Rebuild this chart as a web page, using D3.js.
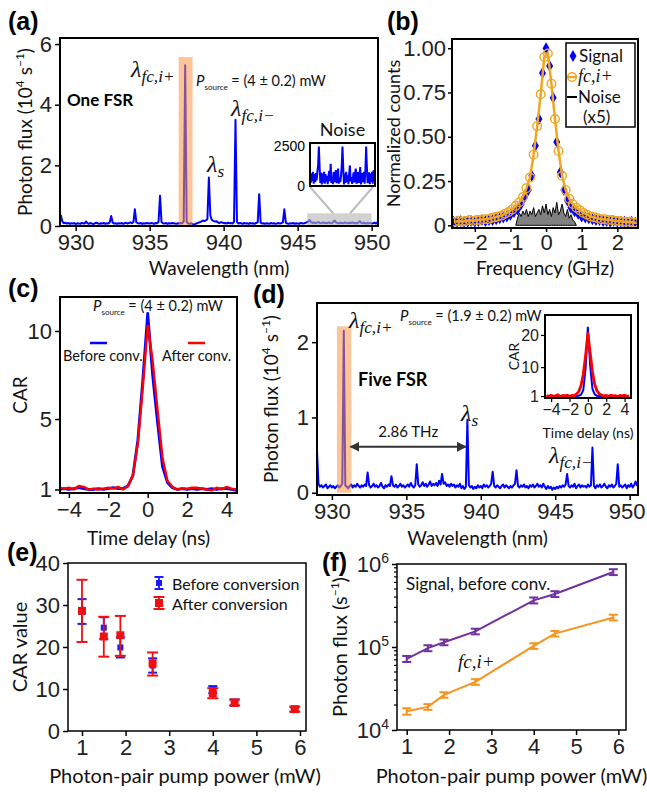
<!DOCTYPE html>
<html>
<head>
<meta charset="utf-8">
<script src="https://cdn.jsdelivr.net/npm/d3@7"></script>
<style>
  body { margin: 0; background: #fff; }
  svg { display: block; }
</style>
</head>
<body>
<div id="chart"></div>
<script>
// ---------- data ----------

// (a) one-FSR spectrum, photon flux (1e4 /s), sampled every 0.1 nm from 928.9 nm
const aStart = 928.9, aStep = 0.1;
const aFlux = [
  0.14, 0.35, 0.15, 0.09, 0.11, 0.08, 0.10, 0.07, 0.09, 0.08,
  0.10, 0.06, 0.09, 0.08, 0.07, 0.10, 0.09, 0.08, 0.15, 0.09,
  0.07, 0.10, 0.08, 0.06, 0.09, 0.11, 0.08, 0.07, 0.09, 0.08,
  0.10, 0.07, 0.09, 0.08, 0.12, 0.33, 0.11, 0.08, 0.09, 0.07,
  0.09, 0.08, 0.10, 0.07, 0.09, 0.11, 0.08, 0.10, 0.12, 0.09,
  0.13, 0.55, 0.12, 0.09, 0.08, 0.10, 0.07, 0.09, 0.08, 0.10,
  0.09, 0.08, 0.10, 0.09, 0.07, 0.10, 0.09, 0.14, 1.00, 0.13,
  0.09, 0.08, 0.10, 0.07, 0.09, 0.08, 0.10, 0.09, 0.08, 0.07,
  0.09, 0.08, 0.10, 0.09, 0.15, 5.30, 0.14, 0.08, 0.07, 0.09,
  0.06, 0.05, 0.07, 0.09, 0.11, 0.13, 0.15, 0.18, 0.16, 0.19,
  0.22, 1.60, 0.35, 0.20, 0.17, 0.15, 0.16, 0.12, 0.10, 0.12,
  0.12, 0.09, 0.10, 0.08, 0.11, 0.09, 0.10, 0.08, 0.14, 3.50,
  0.13, 0.08, 0.10, 0.09, 0.07, 0.10, 0.08, 0.09, 0.07, 0.10,
  0.08, 0.09, 0.07, 0.10, 0.12, 1.05, 0.11, 0.08, 0.09, 0.07,
  0.09, 0.08, 0.07, 0.10, 0.08, 0.09, 0.07, 0.08, 0.10, 0.08,
  0.09, 0.12, 0.55, 0.11, 0.08, 0.07, 0.09, 0.08, 0.10, 0.07,
  0.09, 0.08, 0.07, 0.10, 0.09, 0.08, 0.10, 0.12, 0.14, 0.20,
  0.13, 0.10, 0.12, 0.09, 0.11, 0.13, 0.10, 0.09, 0.12, 0.10,
  0.11, 0.09, 0.12, 0.10, 0.09, 0.13, 0.18, 0.12, 0.10, 0.09,
  0.11, 0.10, 0.09, 0.12, 0.10, 0.09, 0.11, 0.10, 0.12, 0.09,
  0.10, 0.09, 0.11, 0.16, 0.10, 0.09, 0.11, 0.08, 0.10, 0.09,
  0.10, 0.08, 0.09, 0.11, 0.08, 0.12, 0.09
];
const aBand = [936.96, 937.9, 5.57];        // highlighted idler line: from, to, height
const aNoiseWin = [945.65, 950.0, 0.42];    // zoomed noise window: from, to, height
const aZoomLinks = [947.4, 948.55];         // where the guide lines leave the window

// (a) noise inset, counts/s every 0.05 nm from 945.6 nm
const aNoiseStart = 945.6, aNoiseStep = 0.05;
const aNoise = [
  700, 200, 800, 300, 900, 150, 750, 250, 820, 350,
  900, 1300, 2500, 1200, 200, 850, 100, 780, 220, 900,
  140, 760, 280, 650, 120, 600, 950, 300, 1400, 200,
  560, 120, 880, 240, 640, 1000, 180, 760, 1100, 150,
  520, 240, 660, 1300, 2500, 1100, 100, 780, 200, 900,
  250, 680, 120, 700, 1300, 300, 560, 140, 460, 860,
  220, 780, 1100, 140, 500, 880, 200, 560, 1200, 100,
  460, 820, 240, 900, 140, 1000, 2500, 1200, 180, 500,
  860, 120, 780, 260, 900, 140, 1000, 300, 850
];

// (b) normalized line shapes, every 0.1 GHz
const bSignalStart = -2.6, bFcStart = -2.55, bStep = 0.1;
const bSignal = [
  0.02, 0.02, 0.025, 0.02, 0.02, 0.025, 0.02, 0.025, 0.03, 0.025,
  0.03, 0.03, 0.035, 0.04, 0.045, 0.05, 0.06, 0.075, 0.09, 0.12,
  0.16, 0.20, 0.28, 0.45, 0.60, 0.86, 1.00, 0.90, 0.72, 0.47,
  0.30, 0.20, 0.14, 0.10, 0.08, 0.065, 0.05, 0.045, 0.04, 0.035,
  0.03, 0.03, 0.025, 0.025, 0.02, 0.025, 0.02, 0.02, 0.02, 0.015,
  0.02, 0.015
];
const bFc = [
  0.02, 0.025, 0.02, 0.025, 0.03, 0.025, 0.03, 0.03, 0.035, 0.035,
  0.04, 0.045, 0.05, 0.055, 0.065, 0.075, 0.09, 0.11, 0.13, 0.16,
  0.21, 0.27, 0.40, 0.56, 0.74, 0.95, 0.97, 0.80, 0.60, 0.42,
  0.28, 0.20, 0.15, 0.12, 0.10, 0.085, 0.07, 0.06, 0.05, 0.045,
  0.04, 0.035, 0.035, 0.03, 0.03, 0.025, 0.025, 0.02, 0.02, 0.02,
  0.015, 0.015
];
const bNoiseStart = -0.85, bNoiseStep = 0.05;
const bNoise = [
  0, 0.04, 0.07, 0.05, 0.08, 0.06, 0.09, 0.05, 0.08, 0.06,
  0.10, 0.05, 0.07, 0.09, 0.06, 0.11, 0.07, 0.12, 0.06, 0.09,
  0.05, 0.10, 0.07, 0.13, 0.06, 0.08, 0.12, 0.07, 0.05, 0.09,
  0.04, 0.06, 0.03, 0.02, 0
];

// (c) CAR vs time delay, every 0.25 ns from -4.5 ns
const cStart = -4.5, cStep = 0.25;
const cBefore = [
  1.00, 1.05, 1.00, 1.05, 1.10, 1.05, 1.00, 1.00, 1.05, 1.00,
  1.05, 1.10, 1.05, 1.05, 1.20, 1.80, 3.80, 7.20, 11.00, 7.50,
  4.80, 2.30, 1.40, 1.10, 1.00, 1.05, 1.00, 1.05, 1.00, 1.05,
  1.00, 1.05, 1.00, 1.05, 1.05, 1.00, 0.95
];
const cAfter = [
  1.10, 1.05, 1.10, 1.00, 1.20, 1.15, 1.00, 1.05, 1.00, 1.05,
  1.10, 1.05, 1.15, 1.00, 1.20, 1.80, 3.60, 6.80, 10.30, 8.30,
  5.50, 2.80, 1.50, 1.15, 1.00, 1.05, 1.05, 1.10, 1.10, 1.05,
  1.00, 0.95, 1.10, 1.00, 1.15, 1.05, 1.00
];

// (d) five-FSR spectrum, photon flux (1e4 /s), every 0.1 nm from 929.0 nm
const dStart = 929.0, dStep = 0.1;
const dFlux = [
  0.55, 0.12, 0.08, 0.10, 0.07, 0.09, 0.11, 0.06, 0.08, 0.10,
  0.07, 0.09, 0.06, 0.08, 0.10, 0.07, 0.09, 0.12, 2.15, 0.10,
  0.08, 0.06, 0.09, 0.11, 0.07, 0.10, 0.08, 0.12, 0.09, 0.07,
  0.10, 0.08, 0.11, 0.09, 0.27, 0.10, 0.07, 0.09, 0.12, 0.08,
  0.10, 0.07, 0.09, 0.13, 0.08, 0.06, 0.10, 0.08, 0.11, 0.09,
  0.22, 0.10, 0.08, 0.11, 0.07, 0.09, 0.12, 0.08, 0.10, 0.07,
  0.09, 0.11, 0.08, 0.13, 0.09, 0.07, 0.10, 0.38, 0.11, 0.08,
  0.10, 0.14, 0.09, 0.12, 0.08, 0.11, 0.15, 0.09, 0.12, 0.10,
  0.13, 0.09, 0.16, 0.11, 0.25, 0.12, 0.14, 0.09, 0.11, 0.08,
  0.12, 0.09, 0.11, 0.07, 0.10, 0.08, 0.12, 0.06, 0.09, 0.05,
  0.08, 0.97, 0.10, 0.07, 0.09, 0.05, 0.08, 0.06, 0.10, 0.07,
  0.09, 0.06, 0.11, 0.08, 0.10, 0.07, 0.09, 0.12, 0.28, 0.09,
  0.07, 0.10, 0.08, 0.06, 0.09, 0.11, 0.07, 0.10, 0.08, 0.06,
  0.09, 0.07, 0.10, 0.12, 0.30, 0.09, 0.07, 0.10, 0.08, 0.11,
  0.07, 0.09, 0.06, 0.10, 0.08, 0.11, 0.07, 0.09, 0.12, 0.08,
  0.10, 0.07, 0.12, 0.08, 0.05, 0.09, 0.06, 0.08, 0.04, 0.07,
  0.05, 0.08, 0.06, 0.09, 0.07, 0.10, 0.08, 0.11, 0.25, 0.09,
  0.07, 0.10, 0.08, 0.12, 0.06, 0.09, 0.11, 0.07, 0.10, 0.08,
  0.09, 0.07, 0.11, 0.08, 0.10, 0.60, 0.09, 0.06, 0.10, 0.08,
  0.11, 0.07, 0.09, 0.12, 0.08, 0.06, 0.10, 0.08, 0.11, 0.07,
  0.09, 0.12, 0.38, 0.08, 0.10, 0.07, 0.09, 0.11, 0.06, 0.10,
  0.08, 0.12, 0.07, 0.10, 0.15, 0.09
];
const dBand = [930.34, 931.3, 2.21];
const dArrow = [931.25, 939.0, 0.61];   // 2.86 THz spacing arrow: from, to, level

// (d) inset CAR, every 0.25 ns from -4.5 ns
const dInStart = -4.5, dInStep = 0.25;
const dInBefore = [
  1.0, 1.1, 0.9, 1.0, 1.1, 1.0, 0.9, 1.0, 1.1, 1.0,
  1.0, 0.9, 1.1, 1.0, 1.1, 1.4, 2.8, 9.5, 22.5, 10.5,
  3.2, 1.5, 1.1, 1.0, 0.9, 1.0, 1.1, 1.0, 0.9, 1.0,
  1.1, 1.0, 0.9, 1.0, 1.1, 1.0, 1.0
];
const dInAfter = [
  1.2, 0.8, 1.3, 0.9, 1.1, 1.4, 0.8, 1.2, 1.0, 1.3,
  0.9, 1.2, 1.1, 1.6, 2.4, 4.2, 7.8, 13.5, 20.5, 14.5,
  8.5, 4.6, 2.6, 1.7, 1.3, 1.0, 1.2, 0.9, 1.3, 1.0,
  1.1, 0.8, 1.2, 1.0, 1.3, 0.9, 1.1
];

// (e) CAR value vs pump power
const ePower = [1.0, 1.5, 1.88, 2.62, 4.0, 4.5, 5.88];
const eBefore = [28.4, 24.6, 19.9, 15.6, 9.9, 6.8, 5.1];
const eBeforeLo = [25.5, 21.9, 17.5, 13.9, 9.0, 6.0, 4.6];
const eBeforeHi = [31.4, 27.1, 22.3, 17.3, 10.7, 7.5, 5.6];
const eAfter = [28.6, 22.5, 22.8, 16.1, 9.0, 6.7, 5.2];
const eAfterLo = [21.2, 17.7, 17.9, 13.2, 7.8, 6.1, 4.6];
const eAfterHi = [36.0, 27.2, 27.4, 18.7, 10.2, 7.5, 5.8];

// (f) photon flux vs pump power (1/s)
const fPower = [1.0, 1.5, 1.88, 2.62, 4.0, 4.5, 5.88];
const fSignal = [7.2e4, 9.7e4, 1.14e5, 1.54e5, 3.65e5, 4.35e5, 8.0e5];
const fSignalErr = [0.6e4, 0.8e4, 0.9e4, 1.2e4, 3.0e4, 3.5e4, 6.5e4];
const fFc = [1.68e4, 1.9e4, 2.65e4, 3.8e4, 1.03e5, 1.45e5, 2.27e5];
const fFcErr = [0.15e4, 0.15e4, 0.2e4, 0.3e4, 0.8e4, 1.1e4, 1.8e4];

// ---------- drawing ----------
const TICK_FONT = '"Liberation Sans", Arial, sans-serif';
const LABEL_FONT = 'Lato, "Open Sans", sans-serif';
const SERIF = '"Liberation Serif", "Times New Roman", serif';
const BLUE = '#0000ff', RED = '#ff0000';

const svg = d3.select('#chart').append('svg')
  .attr('width', 647).attr('height', 794)
  .style('background', '#fff');
const defs = svg.append('defs');

function clipFor(id, b) {
  defs.append('clipPath').attr('id', id).append('rect')
    .attr('x', b.l).attr('y', b.t).attr('width', b.r - b.l).attr('height', b.b - b.t);
  return `url(#${id})`;
}

function drawFrame(b, sw) {
  svg.append('rect')
    .attr('x', b.l).attr('y', b.t).attr('width', b.r - b.l).attr('height', b.b - b.t)
    .attr('fill', 'none').attr('stroke', '#000').attr('stroke-width', sw || 2);
}

function drawAxes(b, x, y, o) {
  const fs = o.fs || 22;
  const gx = svg.append('g').attr('transform', `translate(0,${b.b})`)
    .call(d3.axisBottom(x).tickValues(o.xt).tickFormat(o.xf || d3.format('d'))
      .tickSize(o.ts !== undefined ? o.ts : 5).tickPadding(o.tp || 3));
  const gy = svg.append('g').attr('transform', `translate(${b.l},0)`)
    .call(d3.axisLeft(y).tickValues(o.yt).tickFormat(o.yf || d3.format('d'))
      .tickSize(o.ts !== undefined ? o.ts : 5).tickPadding(o.tp || 3));
  [gx, gy].forEach(g => {
    g.select('.domain').remove();
    g.attr('font-family', TICK_FONT).attr('font-size', fs);
    g.selectAll('text').attr('fill', '#222');
    g.selectAll('line').attr('stroke', '#000').attr('stroke-width', o.tw || 1.5);
  });
  return { gx, gy };
}

// text made of pieces: {t, dy (absolute baseline offset), fs, ff, it}
function label(x, y, parts, o = {}) {
  const t = svg.append('text').attr('x', x).attr('y', y)
    .attr('font-family', o.ff || LABEL_FONT).attr('font-size', o.fs || 20)
    .attr('fill', o.fill || '#111');
  if (o.anchor) t.attr('text-anchor', o.anchor);
  if (o.weight) t.attr('font-weight', o.weight);
  if (o.rotate) t.attr('transform', `rotate(${o.rotate},${x},${y})`);
  let cur = 0;
  (typeof parts === 'string' ? [{ t: parts }] : parts).forEach(p => {
    const s = t.append('tspan').text(p.t);
    const dy = p.dy || 0;
    if (dy !== cur) { s.attr('dy', dy - cur); cur = dy; }
    if (p.fs) s.attr('font-size', p.fs);
    if (p.ff) s.attr('font-family', p.ff);
    if (p.it) s.attr('font-style', 'italic');
  });
  return t;
}

function lambda(x, y, sub, fs) {
  const f = fs || 24;
  return label(x, y, [{ t: 'λ', fs: f, it: true }, { t: sub, fs: f * 0.72, it: true, dy: f * 0.22 }], { ff: SERIF });
}

function pSource(x, y, val) {
  return label(x, y, [
    { t: 'P', it: true, fs: 15 }, { t: 'source', fs: 8, dy: 4 }, { t: ' = (' + val + ' ± 0.2) mW', fs: 14.5 }
  ], { fs: 14.5 });
}

const fluxTitle = [
  { t: 'Photon flux (10' }, { t: '4', fs: 12, dy: -8 }, { t: ' s' },
  { t: '−1', fs: 12, dy: -8 }, { t: ')' }
];

function panelTag(x, y, s) {
  label(x, y, s, { ff: TICK_FONT, fs: 25, weight: 'bold', fill: '#000' });
}

// ===== (a) =====
const aBox = { l: 60, t: 38, r: 378, b: 226 };
const ax = d3.scaleLinear().domain([928.94, 950.43]).range([aBox.l, aBox.r]);
const ay = d3.scaleLinear().domain([0, 6.2]).range([aBox.b, aBox.t]);
drawAxes(aBox, ax, ay, { xt: [930, 935, 940, 945, 950], yt: [0, 2, 4, 6] });
const aClip = clipFor('clipA', aBox);
svg.append('path').datum(aFlux)
  .attr('d', d3.line().x((d, i) => ax(aStart + aStep * i)).y(d => ay(d)))
  .attr('fill', 'none').attr('stroke', BLUE).attr('stroke-width', 2)
  .attr('stroke-linejoin', 'round').attr('clip-path', aClip);
svg.append('rect')
  .attr('x', ax(aBand[0])).attr('width', ax(aBand[1]) - ax(aBand[0]))
  .attr('y', ay(aBand[2])).attr('height', ay(0) - ay(aBand[2]))
  .attr('fill', '#f79646').attr('opacity', 0.55);
svg.append('rect')
  .attr('x', ax(aNoiseWin[0])).attr('width', ax(aNoiseWin[1]) - ax(aNoiseWin[0]))
  .attr('y', ay(aNoiseWin[2])).attr('height', ay(0) - ay(aNoiseWin[2]))
  .attr('fill', '#b4b4b4').attr('opacity', 0.6);

// noise inset
const aiBox = { l: 310, t: 143, r: 375, b: 186 };
const aix = d3.scaleLinear().domain([945.6, 950.0]).range([aiBox.l, aiBox.r]);
const aiy = d3.scaleLinear().domain([0, 2720]).range([aiBox.b, aiBox.t]);
svg.append('line').attr('x1', ax(aZoomLinks[0])).attr('y1', ay(aNoiseWin[2]))
  .attr('x2', aiBox.l).attr('y2', aiBox.b + 1).attr('stroke', '#bdbdbd').attr('stroke-width', 2);
svg.append('line').attr('x1', ax(aZoomLinks[1])).attr('y1', ay(aNoiseWin[2]))
  .attr('x2', aiBox.r - 2).attr('y2', aiBox.b + 1).attr('stroke', '#bdbdbd').attr('stroke-width', 2);
svg.append('rect').attr('x', aiBox.l).attr('y', aiBox.t)
  .attr('width', aiBox.r - aiBox.l).attr('height', aiBox.b - aiBox.t).attr('fill', '#fff');
svg.append('path').datum(aNoise)
  .attr('d', d3.line().x((d, i) => aix(aNoiseStart + aNoiseStep * i)).y(d => aiy(d)))
  .attr('fill', 'none').attr('stroke', BLUE).attr('stroke-width', 2)
  .attr('clip-path', clipFor('clipAi', aiBox));
drawFrame(aiBox, 2);
const aiAx = svg.append('g').attr('transform', `translate(${aiBox.l},0)`)
  .call(d3.axisLeft(aiy).tickValues([0, 2500]).tickFormat(d3.format('d')).tickSize(0).tickPadding(5));
aiAx.select('.domain').remove();
aiAx.attr('font-family', TICK_FONT).attr('font-size', 14);
label((aiBox.l + aiBox.r) / 2, 136, 'Noise', { anchor: 'middle', fs: 18 });

drawFrame(aBox, 2);
panelTag(8, 30, '(a)');
label(32, (aBox.t + aBox.b) / 2, fluxTitle, { rotate: -90, anchor: 'middle', fs: 19 });
label((aBox.l + aBox.r) / 2, 275, 'Wavelength (nm)', { anchor: 'middle', fs: 19 });
lambda(131, 77, 'fc,i+');
pSource(196, 86, '4');
label(67, 106, 'One FSR', { fs: 17, weight: 'bold', fill: '#000' });
lambda(231, 116, 'fc,i−');
lambda(207, 172, 's');

// ===== (b) =====
const bBox = { l: 452, t: 39, r: 638, b: 228 };
const bx = d3.scaleLinear().domain([-2.64, 2.58]).range([bBox.l, bBox.r]);
const by = d3.scaleLinear().domain([-0.015, 1.052]).range([bBox.b, bBox.t]);
drawAxes(bBox, bx, by, {
  xt: [-2, -1, 0, 1, 2], yt: [0, 0.25, 0.5, 0.75, 1], ts: 4, tp: 2,
  yf: d => d === 0 ? '0' : d3.format('.2f')(d)
});
const bClip = clipFor('clipB', bBox);
const ORANGE_B = '#eea623';
svg.append('path').datum(bNoise)
  .attr('d', d3.area().x((d, i) => bx(bNoiseStart + bNoiseStep * i)).y0(by(0)).y1(d => by(d)))
  .attr('fill', '#808080').attr('stroke', '#000').attr('stroke-width', 1);
svg.append('g').attr('clip-path', bClip).selectAll('path').data(bSignal).join('path')
  .attr('d', d3.symbol(d3.symbolDiamond, 42))
  .attr('transform', (d, i) => `translate(${bx(bSignalStart + bStep * i)},${by(d)})`)
  .attr('fill', BLUE);
svg.append('path').datum(bFc)
  .attr('d', d3.line().x((d, i) => bx(bFcStart + bStep * i)).y(d => by(d)))
  .attr('fill', 'none').attr('stroke', ORANGE_B).attr('stroke-width', 2.5).attr('clip-path', bClip);
svg.append('g').attr('clip-path', bClip).selectAll('circle').data(bFc).join('circle')
  .attr('cx', (d, i) => bx(bFcStart + bStep * i)).attr('cy', d => by(d)).attr('r', 4.3)
  .attr('fill', 'none').attr('stroke', ORANGE_B).attr('stroke-width', 1.4);
drawFrame(bBox, 2);
// legend
svg.append('rect').attr('x', 566).attr('y', 43).attr('width', 69).attr('height', 84)
  .attr('fill', '#fff').attr('stroke', '#000').attr('stroke-width', 1.5);
svg.append('path').attr('d', d3.symbol(d3.symbolDiamond, 42))
  .attr('transform', 'translate(573,56)').attr('fill', BLUE);
label(579, 62, 'Signal', { fs: 17 });
svg.append('line').attr('x1', 567).attr('x2', 577).attr('y1', 77).attr('y2', 77)
  .attr('stroke', ORANGE_B).attr('stroke-width', 2.5);
svg.append('circle').attr('cx', 572).attr('cy', 77).attr('r', 4.3)
  .attr('fill', 'none').attr('stroke', ORANGE_B).attr('stroke-width', 1.4);
label(578, 82, [{ t: 'fc,i+', it: true }], { ff: SERIF, fs: 18 });
svg.append('line').attr('x1', 567).attr('x2', 577).attr('y1', 97).attr('y2', 97)
  .attr('stroke', '#000').attr('stroke-width', 2);
label(578, 103, 'Noise', { fs: 17 });
label(583, 123, '(x5)', { fs: 17 });
panelTag(387, 30, '(b)');
label(400, (bBox.t + bBox.b) / 2, 'Normalized counts', { rotate: -90, anchor: 'middle', fs: 18 });
label((bBox.l + bBox.r) / 2, 275, 'Frequency (GHz)', { anchor: 'middle', fs: 19 });

// ===== (c) =====
const cBox = { l: 60, t: 297, r: 237, b: 493 };
const cx = d3.scaleLinear().domain([-4.45, 4.53]).range([cBox.l, cBox.r]);
const cy = d3.scaleLinear().domain([0.8, 11.93]).range([cBox.b, cBox.t]);
drawAxes(cBox, cx, cy, { xt: [-4, -2, 0, 2, 4], yt: [1, 5, 10] });
const cClip = clipFor('clipC', cBox);
const cLine = d3.line().x((d, i) => cx(cStart + cStep * i)).y(d => cy(d));
svg.append('path').datum(cBefore).attr('d', cLine).attr('fill', 'none')
  .attr('stroke', BLUE).attr('stroke-width', 2.8).attr('stroke-linejoin', 'round').attr('clip-path', cClip);
svg.append('path').datum(cAfter).attr('d', cLine).attr('fill', 'none')
  .attr('stroke', RED).attr('stroke-width', 2.4).attr('stroke-linejoin', 'round').attr('clip-path', cClip);
drawFrame(cBox, 2);
pSource(93, 311, '4');
svg.append('line').attr('x1', 90).attr('x2', 107).attr('y1', 343).attr('y2', 343)
  .attr('stroke', BLUE).attr('stroke-width', 2.5);
svg.append('line').attr('x1', 188).attr('x2', 205).attr('y1', 343).attr('y2', 343)
  .attr('stroke', RED).attr('stroke-width', 2.5);
label(63, 361, 'Before conv.', { fs: 14.5 });
label(162, 361, 'After conv.', { fs: 14.5 });
panelTag(8, 297, '(c)');
label(27, (cBox.t + cBox.b) / 2, 'CAR', { rotate: -90, anchor: 'middle', fs: 19 });
label((cBox.l + cBox.r) / 2, 545, 'Time delay (ns)', { anchor: 'middle', fs: 19 });

// ===== (d) =====
const dBox = { l: 317, t: 303, r: 638, b: 495 };
const dx = d3.scaleLinear().domain([929.0, 950.56]).range([dBox.l, dBox.r]);
const dy = d3.scaleLinear().domain([-0.03, 2.52]).range([dBox.b, dBox.t]);
const dAx = drawAxes(dBox, dx, dy, { xt: [930, 935, 940, 945, 950], yt: [0, 1, 2] });
// keep the last wavelength label inside the page
dAx.gx.selectAll('.tick text').filter(d => d === 950).attr('dx', -3);
svg.append('path').datum(dFlux)
  .attr('d', d3.line().x((d, i) => dx(dStart + dStep * i)).y(d => dy(d)))
  .attr('fill', 'none').attr('stroke', BLUE).attr('stroke-width', 2)
  .attr('stroke-linejoin', 'round').attr('clip-path', clipFor('clipD', dBox));
svg.append('rect')
  .attr('x', dx(dBand[0])).attr('width', dx(dBand[1]) - dx(dBand[0]))
  .attr('y', dy(dBand[2])).attr('height', dy(0) - dy(dBand[2]))
  .attr('fill', '#f79646').attr('opacity', 0.55);
// arrow
defs.append('marker').attr('id', 'arrowHead').attr('viewBox', '0 0 10 10')
  .attr('refX', 9).attr('refY', 5).attr('markerWidth', 5).attr('markerHeight', 5)
  .attr('orient', 'auto-start-reverse')
  .append('path').attr('d', 'M0,0 L10,5 L0,10 z').attr('fill', '#333');
svg.append('line').attr('x1', dx(dArrow[0])).attr('x2', dx(dArrow[1]))
  .attr('y1', dy(dArrow[2])).attr('y2', dy(dArrow[2]))
  .attr('stroke', '#333').attr('stroke-width', 2)
  .attr('marker-start', 'url(#arrowHead)').attr('marker-end', 'url(#arrowHead)');
label((dx(dArrow[0]) + dx(dArrow[1])) / 2, 437, '2.86 THz', { anchor: 'middle', fs: 15 });

// inset CAR
const diBox = { l: 545, t: 315, r: 631, b: 398 };
const dix = d3.scaleLinear().domain([-4.67, 4.7]).range([diBox.l, diBox.r]);
const diy = d3.scaleLinear().domain([0.4, 26.2]).range([diBox.b, diBox.t]);
svg.append('rect').attr('x', diBox.l).attr('y', diBox.t)
  .attr('width', diBox.r - diBox.l).attr('height', diBox.b - diBox.t).attr('fill', '#fff');
drawAxes(diBox, dix, diy, { xt: [-4, -2, 0, 2, 4], yt: [1, 10, 20], fs: 16, ts: 4, tp: 2, tw: 1.2 });
const diClip = clipFor('clipDi', diBox);
const diLine = d3.line().x((d, i) => dix(dInStart + dInStep * i)).y(d => diy(d));
svg.append('path').datum(dInBefore).attr('d', diLine).attr('fill', 'none')
  .attr('stroke', BLUE).attr('stroke-width', 2).attr('clip-path', diClip);
svg.append('path').datum(dInAfter).attr('d', diLine).attr('fill', 'none')
  .attr('stroke', RED).attr('stroke-width', 2.8).attr('stroke-linejoin', 'round').attr('clip-path', diClip);
drawFrame(diBox, 2);
label(519, (diBox.t + diBox.b) / 2, 'CAR', { rotate: -90, anchor: 'middle', fs: 14 });
label((diBox.l + diBox.r) / 2, 438, 'Time delay (ns)', { anchor: 'middle', fs: 14 });

drawFrame(dBox, 2);
lambda(349, 328, 'fc,i+');
pSource(400, 321, '1.9');
label(358, 386, 'Five  FSR', { fs: 18, weight: 'bold', fill: '#000' });
lambda(461, 421, 's');
lambda(549, 463, 'fc,i−');
panelTag(253, 303, '(d)');
label(278, (dBox.t + dBox.b) / 2, fluxTitle, { rotate: -90, anchor: 'middle', fs: 19 });
label((dBox.l + dBox.r) / 2, 545, 'Wavelength (nm)', { anchor: 'middle', fs: 19 });

// ===== (e) =====
const eBox = { l: 68, t: 563, r: 306, b: 731 };
const ex = d3.scaleLinear().domain([0.679, 6.138]).range([eBox.l, eBox.r]);
const ey = d3.scaleLinear().domain([0, 40]).range([eBox.b, eBox.t]);
drawAxes(eBox, ex, ey, { xt: [1, 2, 3, 4, 5, 6], yt: [0, 10, 20, 30, 40] });

function errorSeries(xs, ys, lo, hi, color, cap, size) {
  const g = svg.append('g');
  xs.forEach((xv, i) => {
    const px = ex(xv);
    g.append('line').attr('x1', px).attr('x2', px).attr('y1', ey(lo[i])).attr('y2', ey(hi[i]))
      .attr('stroke', color).attr('stroke-width', 1.8);
    [lo[i], hi[i]].forEach(v => g.append('line')
      .attr('x1', px - cap / 2).attr('x2', px + cap / 2).attr('y1', ey(v)).attr('y2', ey(v))
      .attr('stroke', color).attr('stroke-width', 2));
    g.append('rect').attr('x', px - size / 2).attr('y', ey(ys[i]) - size / 2)
      .attr('width', size).attr('height', size).attr('fill', color);
  });
}
errorSeries(ePower, eBefore, eBeforeLo, eBeforeHi, '#1a1aff', 9, 6);
errorSeries(ePower, eAfter, eAfterLo, eAfterHi, '#ee1111', 11, 8);
drawFrame(eBox, 1.5);
// legend
[[583, '#1a1aff', 6, 9, 'Before conversion'], [603, '#ee1111', 8, 11, 'After conversion']].forEach(([yy, col, sz, cap, txt]) => {
  svg.append('line').attr('x1', 159).attr('x2', 159).attr('y1', yy - 6).attr('y2', yy + 6)
    .attr('stroke', col).attr('stroke-width', 1.8);
  [yy - 6, yy + 6].forEach(v => svg.append('line').attr('x1', 159 - cap / 2).attr('x2', 159 + cap / 2)
    .attr('y1', v).attr('y2', v).attr('stroke', col).attr('stroke-width', 2));
  svg.append('rect').attr('x', 159 - sz / 2).attr('y', yy - sz / 2).attr('width', sz).attr('height', sz).attr('fill', col);
  label(172, yy + 7, txt, { fs: 16 });
});
panelTag(7, 561, '(e)');
label(27, (eBox.t + eBox.b) / 2, 'CAR value', { rotate: -90, anchor: 'middle', fs: 20 });
label((eBox.l + eBox.r) / 2 - 2, 783, 'Photon-pair pump power (mW)', { anchor: 'middle', fs: 20 });

// ===== (f) =====
const fBox = { l: 397, t: 564, r: 626, b: 730 };
const fx = d3.scaleLinear().domain([0.77, 6.18]).range([fBox.l, fBox.r]);
const fy = d3.scaleLog().domain([1e4, 1e6]).range([fBox.b, fBox.t]);
const fAx = drawAxes(fBox, fx, fy, { xt: [1, 2, 3, 4, 5, 6], yt: [1e4, 1e5, 1e6], yf: d => String(d) });
fAx.gy.selectAll('.tick text').each(function (d) {
  const t = d3.select(this).text('');
  t.append('tspan').text('10');
  t.append('tspan').attr('dy', -9).attr('font-size', 14).text(Math.round(Math.log10(d)));
});
// minor log ticks
[1e4, 1e5].forEach(dec => d3.range(2, 10).forEach(k => {
  svg.append('line').attr('x1', fBox.l - 3).attr('x2', fBox.l)
    .attr('y1', fy(k * dec)).attr('y2', fy(k * dec)).attr('stroke', '#000').attr('stroke-width', 1.2);
}));
function fSeries(vals, errs, color) {
  svg.append('path').datum(vals)
    .attr('d', d3.line().x((d, i) => fx(fPower[i])).y(d => fy(d)))
    .attr('fill', 'none').attr('stroke', color).attr('stroke-width', 2);
  vals.forEach((v, i) => {
    const px = fx(fPower[i]);
    svg.append('line').attr('x1', px).attr('x2', px).attr('y1', fy(v - errs[i])).attr('y2', fy(v + errs[i]))
      .attr('stroke', color).attr('stroke-width', 2);
    [v - errs[i], v + errs[i]].forEach(e => svg.append('line')
      .attr('x1', px - 4.5).attr('x2', px + 4.5).attr('y1', fy(e)).attr('y2', fy(e))
      .attr('stroke', color).attr('stroke-width', 2));
  });
}
fSeries(fSignal, fSignalErr, '#7030a0');
fSeries(fFc, fFcErr, '#f7941d');
drawFrame(fBox, 1.5);
label(406, 590, 'Signal, before conv.', { fs: 17 });
label(458, 668, [{ t: 'fc,i+', it: true }], { ff: SERIF, fs: 19 });
panelTag(322, 571, '(f)');
label(347, (fBox.t + fBox.b) / 2, [
  { t: 'Photon flux (s' }, { t: '−1', fs: 12, dy: -8 }, { t: ')' }
], { rotate: -90, anchor: 'middle', fs: 20 });
label((fBox.l + fBox.r) / 2, 783, 'Photon-pair pump power (mW)', { anchor: 'middle', fs: 20 });
</script>
</body>
</html>
